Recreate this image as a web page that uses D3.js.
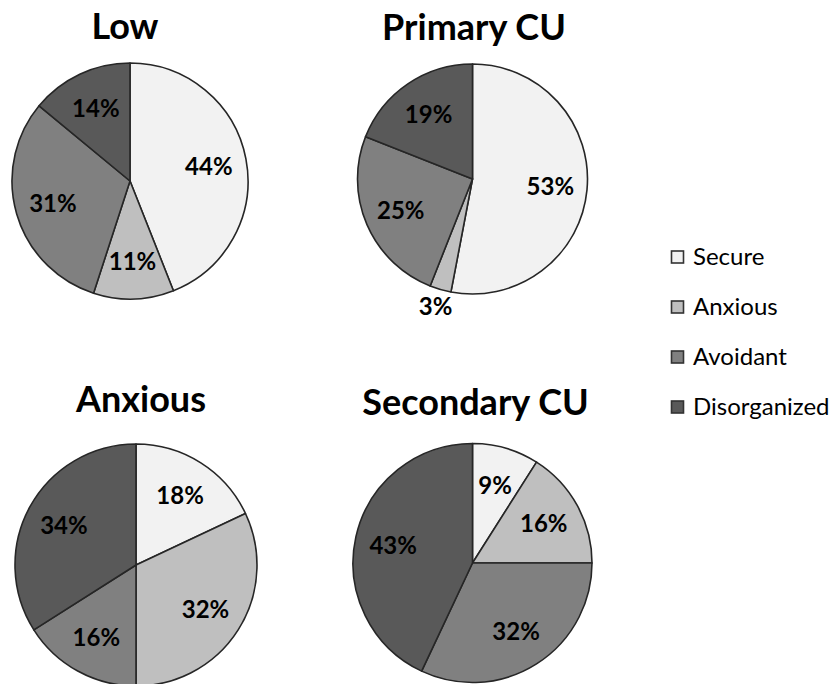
<!DOCTYPE html>
<html>
<head>
<meta charset="utf-8">
<script src="https://cdn.jsdelivr.net/npm/d3@7"></script>
<style>
  html, body { margin: 0; padding: 0; background: #ffffff; }
  svg { display: block; }
</style>
</head>
<body>
<svg id="chart" width="830" height="684"></svg>
<script>
// Attachment categories shown in every pie (clockwise from 12 o'clock)
const categories = ["Secure", "Anxious", "Avoidant", "Disorganized"];

// Group titles, one pie per group
const groups = ["Low", "Primary CU", "Anxious", "Secondary CU"];

// Percentage of each category within each group
const lowValues       = [44, 11, 31, 14];
const primaryValues   = [53, 3, 25, 19];
const anxiousValues   = [18, 32, 16, 34];
const secondaryValues = [9, 16, 32, 43];

// Fill per category
const colors = ["#f2f2f2", "#bfbfbf", "#808080", "#595959"];

const seriesByGroup = [lowValues, primaryValues, anxiousValues, secondaryValues];

// Placement of each pie panel
const panels = [
  { cx: 130,   cy: 181, r: 118, titleX: 125,   titleY: 39 },
  { cx: 472.5, cy: 179, r: 115, titleX: 474,   titleY: 40 },
  { cx: 136,   cy: 565, r: 121, titleX: 141,   titleY: 412 },
  { cx: 472.5, cy: 563, r: 119.5, titleX: 475.5, titleY: 415 }
];

const svg = d3.select("#chart");
const color = d3.scaleOrdinal().domain(categories).range(colors);

const pie = d3.pie()
  .sort(null)
  .value(d => d.value)
  .startAngle(0)
  .endAngle(2 * Math.PI);

groups.forEach((name, gi) => {
  const p = panels[gi];
  const values = seriesByGroup[gi];
  const rows = categories.map((c, i) => ({ category: c, value: values[i] }));
  const arcs = pie(rows);

  const arc = d3.arc().innerRadius(0).outerRadius(p.r);
  const labelArc = d3.arc().innerRadius(p.r * 0.68).outerRadius(p.r * 0.68);
  const outerLabelArc = d3.arc().innerRadius(p.r * 1.15).outerRadius(p.r * 1.15);

  const g = svg.append("g").attr("transform", `translate(${p.cx},${p.cy})`);

  g.selectAll("path.slice")
    .data(arcs)
    .join("path")
    .attr("class", "slice")
    .attr("d", arc)
    .attr("fill", d => color(d.data.category))
    .attr("stroke", "#262626")
    .attr("stroke-width", 1.6)
    .attr("stroke-linejoin", "round");

  g.selectAll("text.value")
    .data(arcs)
    .join("text")
    .attr("class", "value")
    .attr("transform", d => {
      const pos = d.data.value < 5 ? outerLabelArc.centroid(d) : labelArc.centroid(d);
      return `translate(${pos[0]},${pos[1]})`;
    })
    .attr("text-anchor", "middle")
    .attr("dy", "0.36em")
    .attr("font-family", "Lato, 'Open Sans', sans-serif")
    .attr("font-weight", 700)
    .attr("font-size", 24)
    .attr("fill", "#000")
    .text(d => `${d.data.value}%`);

  svg.append("text")
    .attr("x", p.titleX)
    .attr("y", p.titleY)
    .attr("text-anchor", "middle")
    .attr("font-family", "Lato, 'Open Sans', sans-serif")
    .attr("font-weight", 700)
    .attr("font-size", 36)
    .attr("fill", "#000")
    .text(name);
});

// Legend
const legend = svg.append("g").attr("transform", "translate(671.5,257)");
const item = legend.selectAll("g.item")
  .data(categories)
  .join("g")
  .attr("class", "item")
  .attr("transform", (d, i) => `translate(0,${i * 50})`);

item.append("rect")
  .attr("x", 0)
  .attr("y", -6)
  .attr("width", 12)
  .attr("height", 12)
  .attr("fill", d => color(d))
  .attr("stroke", "#333")
  .attr("stroke-width", 1.6);

item.append("text")
  .attr("x", 21.5)
  .attr("y", 0)
  .attr("dy", "0.35em")
  .attr("font-family", "Lato, 'Open Sans', sans-serif")
  .attr("font-size", 24)
  .attr("fill", "#000")
  .text(d => d);
</script>
</body>
</html>
